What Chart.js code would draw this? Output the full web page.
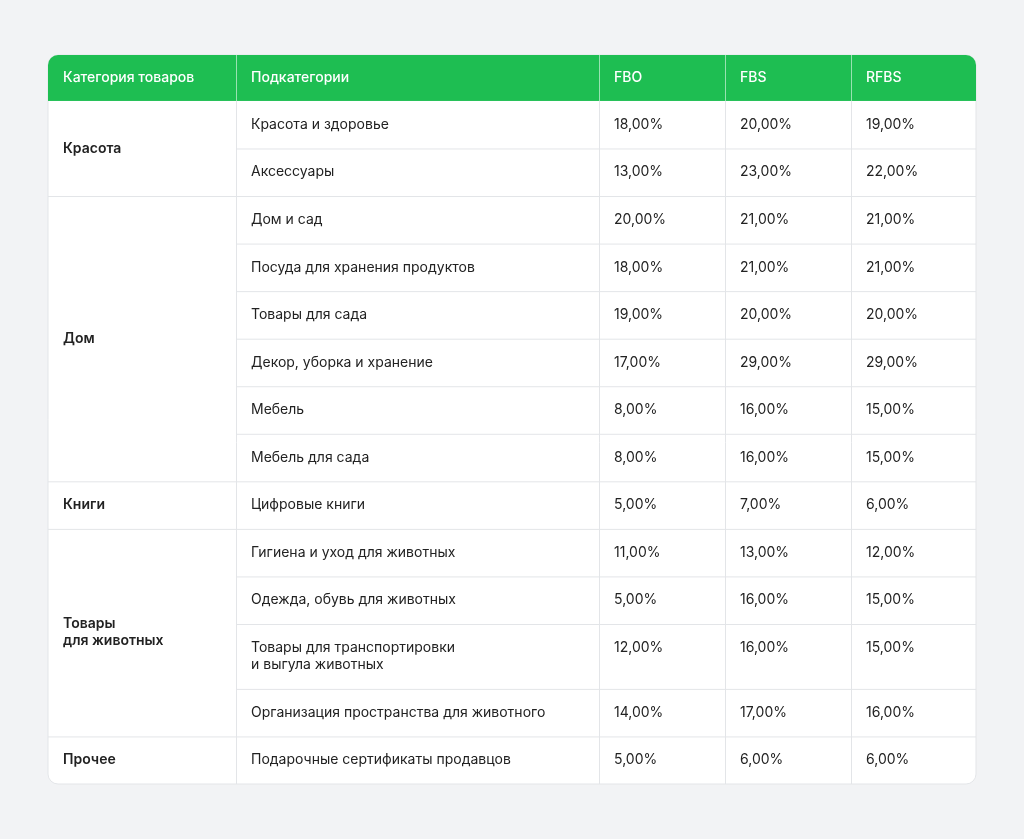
<!DOCTYPE html>
<html><head><meta charset="utf-8">
<script src="https://cdn.jsdelivr.net/npm/chart.js@4"></script>
<style>
html,body{margin:0;background:#f2f3f5;width:1024px;height:839px;overflow:hidden}
#wrap{position:absolute;left:47px;top:54px;width:930px;height:731px}
</style></head><body>
<div id="wrap"><canvas id="c"></canvas></div>
<script>
const headers = ["Категория товаров","Подкатегории","FBO","FBS","RFBS"];
const groups = [["Красота"],["Дом"],["Книги"],["Товары","для животных"],["Прочее"]];
const groupSpans = [2,6,1,4,1];
const subcats = [["Красота и здоровье"],["Аксессуары"],["Дом и сад"],["Посуда для хранения продуктов"],["Товары для сада"],["Декор, уборка и хранение"],["Мебель"],["Мебель для сада"],["Цифровые книги"],["Гигиена и уход для животных"],["Одежда, обувь для животных"],["Товары для транспортировки","и выгула животных"],["Организация пространства для животного"],["Подарочные сертификаты продавцов"]];
const fbo  = [18,13,20,18,19,17,8,8,5,11,5,12,14,5];
const fbs  = [20,23,21,21,20,29,16,16,7,13,16,16,17,6];
const rfbs = [19,22,21,21,20,29,15,15,6,12,15,15,16,6];

const fmt = v => v.toFixed(2).replace('.', ',') + '%';
const colEdges = [0,188,551,677,803,928];
const headerH = 46, rowH = 47.6, tallH = 65;
const rowHeights = subcats.map(s => s.length > 1 ? tallH : rowH);
const totalH = headerH + rowHeights.reduce((a,b)=>a+b,0);

const tablePlugin = {
  id:'table',
  afterDraw(chart){
    const ctx = chart.ctx, xs = chart.scales.x, ys = chart.scales.y;
    const X = v => xs.getPixelForValue(v), Y = v => ys.getPixelForValue(v);
    const L=X(0),R=X(928),T=Y(0),B=Y(totalH);
    ctx.save();
    ctx.beginPath(); ctx.roundRect(L,T,R-L,B-T,10); ctx.fillStyle='#fff'; ctx.fill();
    ctx.strokeStyle='#e3e5e8'; ctx.lineWidth=1; ctx.stroke();
    ctx.clip();
    ctx.fillStyle='#1ebe52'; ctx.fillRect(L,T,R-L,Y(headerH)-T);
    // header dividers
    ctx.strokeStyle='rgba(255,255,255,0.55)';
    for(let i=1;i<colEdges.length-1;i++){ctx.beginPath();ctx.moveTo(X(colEdges[i])+.5,T);ctx.lineTo(X(colEdges[i])+.5,Y(headerH));ctx.stroke();}
    ctx.textBaseline='middle';
    ctx.font='500 14px Inter, Roboto, sans-serif'; ctx.fillStyle='#fff';
    headers.forEach((h,i)=>ctx.fillText(h,X(colEdges[i])+15,Y(headerH/2)));
    // body
    ctx.strokeStyle='#e3e5e8';
    for(let i=1;i<colEdges.length-1;i++){ctx.beginPath();ctx.moveTo(X(colEdges[i])+.5,Y(headerH));ctx.lineTo(X(colEdges[i])+.5,B);ctx.stroke();}
    let y=headerH; const rowTops=[];
    rowHeights.forEach(h=>{rowTops.push(y);y+=h;});
    rowTops.push(y);
    ctx.font='400 14px Inter, Roboto, sans-serif'; ctx.fillStyle='#222';
    subcats.forEach((s,r)=>{
      const top=rowTops[r];
      if(r>0){ctx.beginPath();ctx.moveTo(X(colEdges[1]),Y(top)+.5);ctx.lineTo(R,Y(top)+.5);ctx.stroke();}
      const ty = s.length>1 ? Y(top+24) : Y(top+rowHeights[r]/2);
      s.forEach((line,k)=>ctx.fillText(line,X(colEdges[1])+15,ty+k*17));
      [fbo,fbs,rfbs].forEach((arr,c)=>ctx.fillText(fmt(arr[r]),X(colEdges[2+c])+15,ty));
    });
    let gr=0;
    ctx.font='600 14px Inter, Roboto, sans-serif';
    groups.forEach((g,i)=>{
      const top=rowTops[gr], bot=rowTops[gr+groupSpans[i]];
      if(i>0){ctx.beginPath();ctx.moveTo(L,Y(top)+.5);ctx.lineTo(X(colEdges[1]),Y(top)+.5);ctx.stroke();}
      const cy=Y((top+bot)/2)-(g.length-1)*8.5;
      g.forEach((line,k)=>ctx.fillText(line,L+15,cy+k*17));
      gr+=groupSpans[i];
    });
    ctx.restore();
  }
};

new Chart(document.getElementById('c'),{
  type:'scatter',
  data:{datasets:[{data:[]}]},
  options:{responsive:true,maintainAspectRatio:false,animation:false,
    layout:{padding:1},
    plugins:{legend:{display:false},tooltip:{enabled:false}},
    scales:{x:{type:'linear',min:0,max:928,display:false},
            y:{type:'linear',min:0,max:totalH,reverse:true,display:false}}},
  plugins:[tablePlugin]
});
</script></body></html>
